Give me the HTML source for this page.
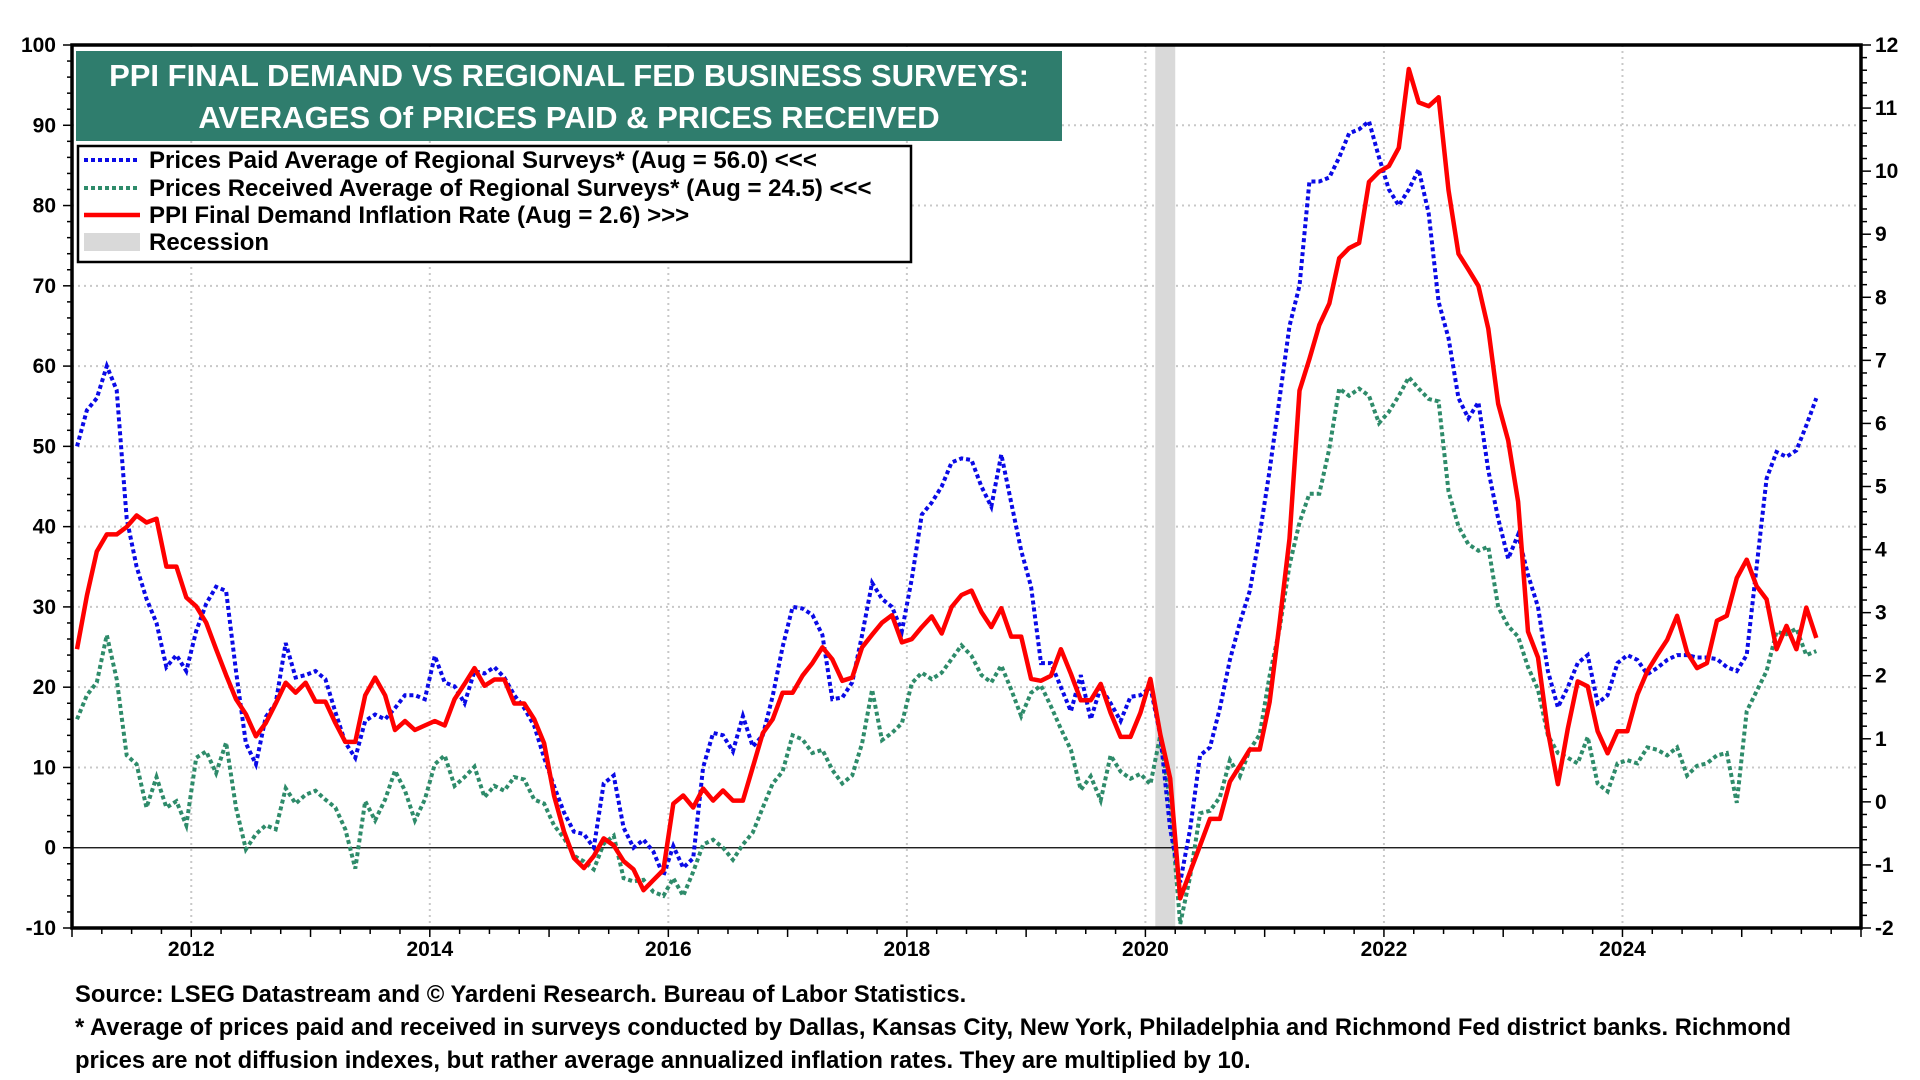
<!DOCTYPE html>
<html><head><meta charset="utf-8"><style>
html,body{margin:0;padding:0;background:#fff;}
svg{display:block;font-family:"Liberation Sans",Arial,sans-serif;}
</style></head><body>
<svg id="chart" width="1920" height="1080" viewBox="0 0 1920 1080" xmlns="http://www.w3.org/2000/svg">
<rect x="0" y="0" width="1920" height="1080" fill="#fff"/>
<g id="grid"></g>
<g id="recess"></g>
<g id="zero"></g>
<g id="series"></g>
<g id="axes"></g>
<g>
<rect x="76" y="51" width="986" height="90" fill="#2f7d6d"/>
<text x="569" y="86" text-anchor="middle" fill="#fff" font-size="31" font-weight="bold">PPI FINAL DEMAND VS REGIONAL FED BUSINESS SURVEYS:</text>
<text x="569" y="128" text-anchor="middle" fill="#fff" font-size="31" font-weight="bold">AVERAGES Of PRICES PAID &amp; PRICES RECEIVED</text>
</g>
<g>
<rect x="78" y="146" width="833" height="116" fill="#fff" stroke="#000" stroke-width="2.5"/>
<g>
<line x1="84" y1="160" x2="140" y2="160" stroke="#0a0ae6" stroke-width="4" stroke-dasharray="4 3"/>
<text x="149" y="168" font-size="24" font-weight="bold">Prices Paid Average of Regional Surveys* (Aug = 56.0) &lt;&lt;&lt;</text></g>
<g>
<line x1="84" y1="188" x2="140" y2="188" stroke="#2e8b6a" stroke-width="4" stroke-dasharray="4 3"/>
<text x="149" y="196" font-size="24" font-weight="bold">Prices Received Average of Regional Surveys* (Aug = 24.5) &lt;&lt;&lt;</text></g>
<g>
<line x1="84" y1="215" x2="140" y2="215" stroke="#ff0000" stroke-width="4.5"/>
<text x="149" y="223" font-size="24" font-weight="bold">PPI Final Demand Inflation Rate (Aug = 2.6) &gt;&gt;&gt;</text></g>
<g>
<rect x="84" y="233" width="56" height="18" fill="#d9d9d9"/>
<text x="149" y="250" font-size="24" font-weight="bold">Recession</text></g>
</g>
<g font-size="23.8" font-weight="bold">
<text x="75" y="1002">Source: LSEG Datastream and © Yardeni Research. Bureau of Labor Statistics.</text>
<text x="75" y="1035">* Average of prices paid and received in surveys conducted by Dallas, Kansas City, New York, Philadelphia and Richmond Fed district banks. Richmond</text>
<text x="75" y="1068">prices are not diffusion indexes, but rather average annualized inflation rates. They are multiplied by 10.</text>
</g>
</svg>
<script>
const startYear = 2011;
const pricesPaid = [50,54.5,56,60,57,41,35,31,28,22.5,24,22,
27,30.4,32.5,32,22,13,10.4,16.3,18,25.5,21.2,21.5,
22,21,16.9,13.1,11.2,15.8,16.6,16,17.4,19,19,18.5,
23.9,20.6,20.1,18,22,21.7,22.5,21.2,19,17.4,15.2,11.2,
7.7,4.4,2,1.7,0,8,9,2.5,0,1,-0.5,-3.5,
0.2,-2.5,-1.3,10,14.3,14,12,16.4,12.6,14,18.9,25,
30,29.8,29,26.5,18.5,18.7,20.6,26.5,33,31,30,27,
33.5,41.5,43,45,48,48.5,48.3,45,42.5,49,43,37,
32.5,23,23,20,17,21.5,16,20,18,15.8,18.8,19,
20,14,2.3,-4.3,2.3,11.5,12.5,17.4,23.4,28,32,39,
47,56,65,70,83,83,83.5,86,89,89.5,90.5,86,
82,80,82,84.5,79,68,63.5,56,53.5,55.5,47,41,
36,39,34,30,22,17.5,20,23,24,18,19,23,
24,23.4,21.6,22.4,23.4,24,24,23.7,23.7,23.5,22.5,22,
24,35,46,49.3,48.7,49.5,52.6,56];
const pricesReceived = [16,19,20.6,26.5,21,11.5,10.4,5,8.8,5,5.8,2.8,
11.2,12,9.3,13.1,5,-0.2,1.7,2.8,2.3,7.4,5.5,6.6,
7.1,6,5,2.3,-2.6,5.8,3.4,6,9.6,7.1,3.4,6,
10.4,11.5,7.7,8.8,10.1,6.3,7.7,7.1,8.8,8.5,6,5.5,
2.8,1.2,-1,-1.7,-2.7,0.5,1.5,-3.8,-4.2,-4,-5.5,-6,
-3.8,-6,-3,0.4,1,0,-1.5,0.4,1.9,5,8,9.5,
14,13.5,11.8,12.2,9.7,8,9,13,19.7,13.4,14.3,15.5,
20.5,21.8,21,21.8,23.5,25.2,23.9,21.5,20.6,22.7,19.7,16.4,
19.3,20.2,17.6,14.8,12.2,7.2,8.9,5.9,11.5,9.5,8.6,9.2,
7.9,14,5.6,-9.5,-3.6,4.3,4.6,6.3,10.9,8.9,12.2,14.1,
21.4,27.3,35.2,40.5,44.1,44.1,49.7,57.2,56.3,57.2,56.3,52.9,
54.3,56.3,58.6,57.2,55.9,55.6,44.4,40,37.8,37,37.5,30,
27.6,26.3,22.5,19.7,14,11.8,11.2,10.5,13.8,8,7,10.5,
10.9,10.5,12.5,12.2,11.5,12.5,9,10.2,10.5,11.5,11.8,5.6,
17,19.5,22,26.9,26.6,27.3,24,24.5];
const ppiInflation = [2.42,3.27,3.97,4.24,4.24,4.36,4.54,4.43,4.49,3.73,3.73,3.24,
3.10,2.84,2.42,2.01,1.63,1.39,1.04,1.25,1.56,1.89,1.73,1.89,
1.59,1.59,1.25,0.95,0.95,1.69,1.97,1.69,1.14,1.28,1.14,1.21,
1.28,1.21,1.63,1.87,2.12,1.84,1.94,1.94,1.56,1.56,1.31,0.93,
0.10,-0.47,-0.89,-1.05,-0.86,-0.58,-0.69,-0.94,-1.07,-1.40,-1.24,-1.08,
-0.03,0.10,-0.09,0.21,0.02,0.18,0.02,0.02,0.55,1.09,1.31,1.73,
1.73,2.00,2.20,2.45,2.26,1.92,1.97,2.45,2.65,2.84,2.96,2.53,
2.58,2.77,2.94,2.67,3.09,3.28,3.35,3.01,2.77,3.07,2.62,2.62,
1.95,1.92,2.00,2.42,2.03,1.61,1.61,1.87,1.41,1.03,1.03,1.41,
1.95,1.07,0.37,-1.53,-1.11,-0.69,-0.27,-0.27,0.32,0.57,0.83,0.83,
1.58,2.84,4.17,6.52,7.02,7.56,7.90,8.62,8.78,8.86,9.83,9.99,
10.08,10.37,11.62,11.09,11.03,11.17,9.70,8.69,8.44,8.18,7.50,6.31,
5.73,4.76,2.70,2.29,1.12,0.28,1.16,1.91,1.83,1.12,0.77,1.12,
1.12,1.70,2.07,2.33,2.57,2.95,2.37,2.12,2.20,2.87,2.95,3.55,
3.84,3.42,3.21,2.42,2.79,2.42,3.08,2.6];
const leftTicks = [-10,0,10,20,30,40,50,60,70,80,90,100];
const rightTicks = [-2,-1,0,1,2,3,4,5,6,7,8,9,10,11,12];
const yearTicks = [2012,2014,2016,2018,2020,2022,2024];
const recession = [2020.083, 2020.25];

const NS = "http://www.w3.org/2000/svg";
const PL = 72, PR = 1861, PT = 45, PB = 928;
const X0 = 2011, X1 = 2026, L0 = -10, L1 = 100, R0 = -2, R1 = 12;
function xScale(t){ return PL + (t - X0) / (X1 - X0) * (PR - PL); }
function yLeft(v){ return PB - (v - L0) / (L1 - L0) * (PB - PT); }
function yRight(v){ return PB - (v - R0) / (R1 - R0) * (PB - PT); }
function monthT(i){ return startYear + (i + 0.5) / 12; }
function mk(tag, attrs, parent){
  const e = document.createElementNS(NS, tag);
  for (const k in attrs) e.setAttribute(k, attrs[k]);
  parent.appendChild(e); return e;
}
const grid = document.getElementById('grid');
leftTicks.forEach(v => {
  if (v === L0 || v === L1 || v === 0) return;
  const l = mk('line', {x1:PL, x2:PR, y1:yLeft(v), y2:yLeft(v), stroke:'#c8c8c8', 'stroke-width':2, 'stroke-dasharray':'2 4'}, grid);
  
  
});
yearTicks.forEach(y => {
  const l = mk('line', {x1:xScale(y), x2:xScale(y), y1:PT, y2:PB, stroke:'#c8c8c8', 'stroke-width':2, 'stroke-dasharray':'2 4'}, grid);
  
  
});
const rec = document.getElementById('recess');
const rb = mk('rect', {x:xScale(recession[0]), y:PT, width:xScale(recession[1]) - xScale(recession[0]), height:PB-PT, fill:'#d9d9d9'}, rec);


const z = mk('line', {x1:PL, x2:PR, y1:yLeft(0), y2:yLeft(0), stroke:'#000', 'stroke-width':1.3}, document.getElementById('zero'));



const ser = document.getElementById('series');
function pathFrom(arr, yf){
  return arr.map((v,i) => (i ? 'L' : 'M') + xScale(monthT(i)).toFixed(1) + ',' + yf(v).toFixed(1)).join(' ');
}
const pg = mk('path', {d:pathFrom(pricesReceived, yLeft), fill:'none', stroke:'#2e8b6a', 'stroke-width':4, 'stroke-dasharray':'4 3'}, ser);


const pb = mk('path', {d:pathFrom(pricesPaid, yLeft), fill:'none', stroke:'#0a0ae6', 'stroke-width':4, 'stroke-dasharray':'4 3'}, ser);


const pr = mk('path', {d:pathFrom(ppiInflation, yRight), fill:'none', stroke:'#ff0000', 'stroke-width':4.5, 'stroke-linejoin':'round'}, ser);



const ax = document.getElementById('axes');
const fr = mk('rect', {x:PL, y:PT, width:PR-PL, height:PB-PT, fill:'none', stroke:'#000', 'stroke-width':3.5}, ax);


leftTicks.forEach(v => {
  const t = mk('text', {x:PL-16, y:yLeft(v)+7, 'text-anchor':'end', 'font-size':21, 'font-weight':'bold'}, ax);
  t.textContent = v;
  
  
});
for (let v = L0; v <= L1; v += 2) {
  mk('line', {x1:PL-(v%10===0?9:5), x2:PL, y1:yLeft(v), y2:yLeft(v), stroke:'#000', 'stroke-width':1.5}, ax);
}
rightTicks.forEach(v => {
  const t = mk('text', {x:PR+14, y:yRight(v)+7, 'text-anchor':'start', 'font-size':21, 'font-weight':'bold'}, ax);
  t.textContent = v;
  
  
});
for (let k = 0; k <= (R1-R0)*5; k++) {
  const v = R0 + k/5;
  mk('line', {x1:PR, x2:PR+(k%5===0?10:6), y1:yRight(v), y2:yRight(v), stroke:'#000', 'stroke-width':1.5}, ax);
}
for (let k = 0; k <= (X1-X0)*4; k++) {
  const t = X0 + k/4;
  mk('line', {x1:xScale(t), x2:xScale(t), y1:PB, y2:PB+(k%4===0?9:6), stroke:'#000', 'stroke-width':1.5}, ax);
}
yearTicks.forEach(y => {
  const t = mk('text', {x:xScale(y), y:956, 'text-anchor':'middle', 'font-size':21, 'font-weight':'bold'}, ax);
  t.textContent = y;
  
  
});
</script>
</body></html>
